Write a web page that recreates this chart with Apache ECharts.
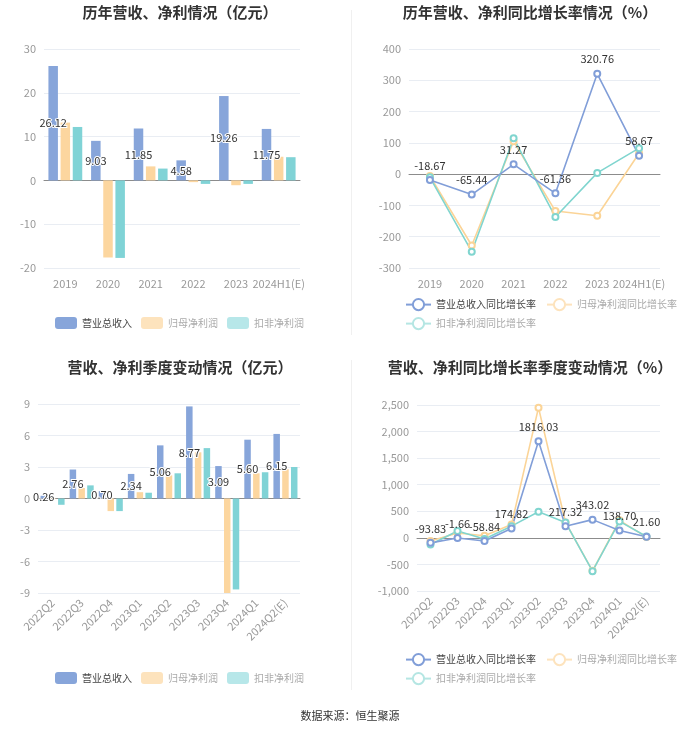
<!DOCTYPE html>
<html>
<head>
<meta charset="utf-8">
<script src="https://cdn.jsdelivr.net/npm/echarts@6/dist/echarts.min.js"></script>
<style>html,body{margin:0;padding:0;background:#fff;}#c{width:700px;height:734px;}</style>
</head>
<body>
<div id="c"></div>
<script>
const years = ['2019','2020','2021','2022','2023','2024H1(E)'];
const yearRevenue = [26.12, 9.03, 11.85, 4.58, 19.26, 11.75];
const yearNetProfit = [13.2, -17.6, 3.2, -0.4, -1.1, 5.4];
const yearDeductProfit = [12.2, -17.7, 2.7, -0.8, -0.8, 5.3];
const yearRevenueGrowth = [-18.67, -65.44, 31.27, -61.36, 320.76, 58.67];
const yearNetGrowth = [-6, -228, 105, -118, -133, 67];
const yearDeductGrowth = [-10, -248, 115, -137, 4, 83];

const quarters = ['2022Q2','2022Q3','2022Q4','2023Q1','2023Q2','2023Q3','2023Q4','2024Q1','2024Q2(E)'];
const qRevenue = [0.26, 2.76, 0.70, 2.34, 5.06, 8.77, 3.09, 5.60, 6.15];
const qNetProfit = [-0.05, 1.0, -1.2, 0.6, 2.2, 4.4, -9.0, 2.4, 2.8];
const qDeductProfit = [-0.6, 1.25, -1.2, 0.55, 2.4, 4.8, -8.66, 2.5, 3.0];
const qRevenueGrowth = [-93.83, -1.66, -58.84, 174.82, 1816.03, 217.32, 343.02, 138.70, 21.60];
const qNetGrowth = [-60, 90, 40, 250, 2450, 290, -620, 330, 15];
const qDeductGrowth = [-125, 130, -20, 220, 490, 290, -627, 310, 25];

const names = ['营业总收入','归母净利润','扣非净利润'];
const gNames = ['营业总收入同比增长率','归母净利润同比增长率','扣非净利润同比增长率'];
const barColors = ['#87a5da','#fcd69f','#80d3d6'];
const lineColors = ['#819ed8','#fbd497','#80d5cf'];
const legendFade = ['#fde3bd','#b7e7e9'];
const lineFade = ['#fde3bd','#b5e6e3'];

const FONT = '"Noto Sans CJK SC","Noto Sans",sans-serif';
const fmt = p => Number(p.value).toFixed(2);

const el = document.getElementById('c');
const chart = echarts.init(el, null, {renderer:'canvas'});

function catAxis(gi, data, rotate) {
  return {
    type:'category', gridIndex:gi, data:data,
    axisLine:{lineStyle:{color:'#8c8c8c'}},
    axisTick:{alignWithLabel:true, length:4, lineStyle:{color:'#8c8c8c'}},
    axisLabel:{color:'#999', fontSize:11, fontFamily:FONT, rotate:rotate||0, margin:rotate?8:10, interval:0}
  };
}
function valAxis(gi, min, max, interval) {
  return {
    type:'value', gridIndex:gi, min:min, max:max, interval:interval,
    axisLine:{show:false}, axisTick:{show:false},
    axisLabel:{color:'#999', fontSize:11, fontFamily:FONT},
    splitLine:{lineStyle:{color:'#e9edf3'}}
  };
}
function barSeries(idx, vals, axisIdx, width, gap, withLabel) {
  return {
    type:'bar', name:names[idx], xAxisIndex:axisIdx, yAxisIndex:axisIdx, data:vals,
    barWidth:width, barGap:gap, z: withLabel ? 4 : 2,
    itemStyle:{color:barColors[idx]},
    label: withLabel ? {show:true, position:'inside', color:'#333', fontSize:11, fontFamily:FONT,
      textBorderColor:'#fff', textBorderWidth:2, formatter:fmt} : {show:false}
  };
}
function lineSeries(idx, vals, axisIdx, withLabel) {
  return {
    type:'line', name:gNames[idx], xAxisIndex:axisIdx, yAxisIndex:axisIdx, data:vals,
    symbol:'emptyCircle', symbolSize:6,
    lineStyle:{color:lineColors[idx], width:1.6},
    itemStyle:{color:lineColors[idx], borderWidth:1.5},
    label: withLabel ? {show:true, position:'top', color:'#333', fontSize:11, fontFamily:FONT, formatter:fmt} : {show:false}
  };
}
function barLegend(id, left, top) {
  return {
    id:id, left:left, top:top, itemWidth:22, itemHeight:12, itemGap:9,
    textStyle:{fontSize:10, fontFamily:FONT, color:'#444'},
    data:[
      {name:names[0], icon:'roundRect'},
      {name:names[1], icon:'roundRect', itemStyle:{color:legendFade[0]}, textStyle:{color:'#aaa'}},
      {name:names[2], icon:'roundRect', itemStyle:{color:legendFade[1]}, textStyle:{color:'#aaa'}}
    ],
    selectedMode:false
  };
}
function lineLegend(id, left, top, items) {
  return {
    id:id, left:left, top:top, itemWidth:25, itemHeight:14, itemGap:10,
    textStyle:{fontSize:10, fontFamily:FONT, color:'#444'},
    data:items.map(i => i === 0 ? {name:gNames[0]} :
      {name:gNames[i], itemStyle:{color:lineFade[i-1]}, lineStyle:{color:lineFade[i-1]}, textStyle:{color:'#aaa'}}),
    selectedMode:false
  };
}
const titleStyle = {fontSize:15, fontWeight:'bold', color:'#333', fontFamily:FONT};

const option = {
  backgroundColor:'#fff',
  animation:false,
  textStyle:{fontFamily:FONT},
  title:[
    {text:'历年营收、净利情况（亿元）', left:175, top:0, textAlign:'center', textStyle:titleStyle},
    {text:'历年营收、净利同比增长率情况（%）', left:525, top:0, textAlign:'center', textStyle:titleStyle},
    {text:'营收、净利季度变动情况（亿元）', left:175, top:355, textAlign:'center', textStyle:titleStyle},
    {text:'营收、净利同比增长率季度变动情况（%）', left:525, top:355, textAlign:'center', textStyle:titleStyle}
  ],
  legend:[
    barLegend('l0', 50, 312),
    lineLegend('l1a', 400, 293, [0,1]),
    lineLegend('l1b', 400, 312, [2]),
    barLegend('l2', 50, 667),
    lineLegend('l3a', 400, 648, [0,1]),
    lineLegend('l3b', 400, 667, [2])
  ],
  grid:[
    {left:44, right:400, top:49, bottom:466},
    {left:409, right:40, top:49, bottom:466},
    {left:38, right:400, top:404, bottom:141},
    {left:417, right:40, top:405, bottom:143}
  ],
  xAxis:[
    catAxis(0, years),
    catAxis(1, years),
    catAxis(2, quarters, 45),
    catAxis(3, quarters, 45)
  ],
  yAxis:[
    valAxis(0, -20, 30, 10),
    valAxis(1, -300, 400, 100),
    valAxis(2, -9, 9, 3),
    valAxis(3, -1000, 2500, 500)
  ],
  series:[
    barSeries(0, yearRevenue, 0, 9.5, '28%', true),
    barSeries(1, yearNetProfit, 0, 9.5, '28%', false),
    barSeries(2, yearDeductProfit, 0, 9.5, '28%', false),
    lineSeries(1, yearNetGrowth, 1, false),
    lineSeries(2, yearDeductGrowth, 1, false),
    lineSeries(0, yearRevenueGrowth, 1, true),
    barSeries(0, qRevenue, 2, 6.5, '35%', true),
    barSeries(1, qNetProfit, 2, 6.5, '35%', false),
    barSeries(2, qDeductProfit, 2, 6.5, '35%', false),
    lineSeries(1, qNetGrowth, 3, false),
    lineSeries(2, qDeductGrowth, 3, false),
    lineSeries(0, qRevenueGrowth, 3, true)
  ],
  graphic:[
    {type:'line', shape:{x1:351.5, y1:10, x2:351.5, y2:335}, style:{stroke:'#f0f0f0', lineWidth:1}},
    {type:'line', shape:{x1:351.5, y1:360, x2:351.5, y2:690}, style:{stroke:'#f0f0f0', lineWidth:1}},
    {type:'text', left:'center', top:710, style:{text:'数据来源：恒生聚源', fontSize:11, fill:'#333', fontFamily:FONT}}
  ]
};
chart.setOption(option);
</script>
</body>
</html>
